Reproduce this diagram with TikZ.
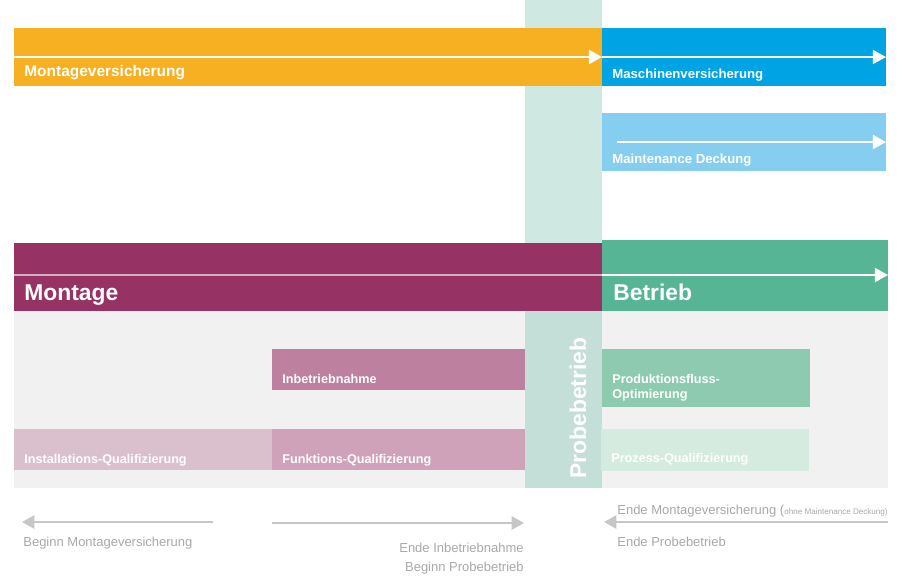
\documentclass[tikz,border=0pt]{standalone}
\usepackage{fontspec}
\setmainfont{Liberation Sans}
\usetikzlibrary{arrows.meta}
\usepackage{xcolor}

\definecolor{orangeBar}{HTML}{F6B021}
\definecolor{blueBar}{HTML}{00A3E4}
\definecolor{lightblueBar}{HTML}{86CEF0}
\definecolor{montageBar}{HTML}{963264}
\definecolor{betriebBar}{HTML}{56B594}
\definecolor{bgGray}{HTML}{F1F1F1}
\definecolor{probeTop}{HTML}{CFE8E1}
\definecolor{probeLow}{HTML}{C3DFD8}
\definecolor{inbetriebBox}{HTML}{BD809E}
\definecolor{installBox}{HTML}{DABFCD}
\definecolor{funktionBox}{HTML}{CFA2BA}
\definecolor{produktBox}{HTML}{8DCAB0}
\definecolor{prozessBox}{HTML}{D5EBDF}
\definecolor{noteGray}{HTML}{A8A8A8}
\definecolor{noteArrow}{HTML}{C6C6C6}

\begin{document}
\begin{tikzpicture}[x=0.02cm,y=-0.02cm]
  \tikzset{bartext/.style = {anchor=base west, inner sep=0pt, text=white, font=\bfseries\fontsize{7.5}{9}\selectfont}}
    \tikzset{boxtext/.style = {bartext, font=\bfseries\fontsize{7.2}{8.6}\selectfont}}
    \tikzset{phasetext/.style = {bartext, font=\bfseries\fontsize{13}{15}\selectfont}}
  \tikzset{notetext/.style = {inner sep=0pt, text=noteGray, font=\fontsize{7.4}{9}\selectfont}}
  \tikzset{%
  tipW/.tip={Triangle[length=7.5pt,width=8pt]},
  tipG/.tip={Triangle[length=7pt,width=7.5pt]},
}
  \useasboundingbox (0,0) rectangle (922,576);

	% Probebetrieb column and background
	\fill[probeTop] (525,0) rectangle (602,311);
	\fill[bgGray] (14,311) rectangle (888,488);
	\fill[probeLow] (525,311) rectangle (602,488);

	% bars
	\fill[orangeBar] (14,28) rectangle (602,86);
	\fill[blueBar] (602,28) rectangle (886,86);
	\fill[lightblueBar] (602,113) rectangle (886,171);
	\fill[montageBar] (14,243) rectangle (602,311);
	\fill[betriebBar] (602,240) rectangle (888,311);

	% boxes
	\fill[inbetriebBox] (272,349) rectangle (525,390);
	\fill[installBox] (14,429) rectangle (272,470);
	\fill[funktionBox] (272,429) rectangle (525,470);
	\fill[produktBox] (602,349) rectangle (810,407);
	\fill[prozessBox] (601,429) rectangle (809,471);

	\node[bartext, font=\bfseries\fontsize{8.8}{10}\selectfont] (montvers) at (24,76) {Montageversicherung};
	\node[bartext] (maschvers) at (612,78) {Maschinenversicherung};
	\node[bartext] (maint) at (612,163) {Maintenance Deckung};
	\node[phasetext] (montage) at (24,300) {Montage};
	\node[phasetext] (betrieb) at (613,300) {Betrieb};
	\node[boxtext] (inbetrieb) at (282,383) {Inbetriebnahme};
	\node[boxtext] (install) at (24,463) {Installations-Qualifizierung};
	\node[boxtext] (funktion) at (282,463) {Funktions-Qualifizierung};
	\node[boxtext] (produkt) at (612,383) {Produktionsfluss-};
	\node[boxtext] (optim) at (612,398) {Optimierung};
	\node[boxtext] (prozess) at (611,462) {Prozess-Qualifizierung};
	\node[phasetext, anchor=center, rotate=90] (probe) at (578,408) {Probebetrieb};

	\coordinate (ov1) at (14,57);
	\coordinate (ov2) at (602,57);
	\coordinate (mv2) at (886,57);
	\coordinate (md1) at (617,142);
	\coordinate (md2) at (886,142);
	\coordinate (mo1) at (14,275);
	\coordinate (mo2) at (602,275);
	\coordinate (be2) at (888,275);

    \foreach \from/\to in {ov1/ov2, ov2/mv2, md1/md2, mo2/be2}
    \path[white, line width=1.2pt, -tipW](\from) edge (\to);

    \path[white, opacity=0.6, line width=1pt](mo1) edge (mo2);

	% notes below
	\coordinate (bm1) at (213,522);
	\coordinate (bm2) at (22,522);
	\coordinate (ei1) at (272,523);
	\coordinate (ei2) at (524,523);
	\coordinate (ep1) at (888,522);
	\coordinate (ep2) at (604,522);

    \foreach \from/\to in {bm1/bm2, ei1/ei2, ep1/ep2}
    \path[noteArrow, line width=1.2pt, -tipG](\from) edge (\to);

	\node[notetext, anchor=base west] (beginmv) at (23,546) {Beginn Montageversicherung};
	\node[notetext, anchor=base east] (endeib) at (524,552) {Ende Inbetriebnahme};
	\node[notetext, anchor=base east] (beginpb) at (524,571) {Beginn Probebetrieb};
	\node[notetext, anchor=base west] (endemv) at (617,514) {Ende Montageversicherung ({\fontsize{4.6}{5}\selectfont ohne Maintenance Deckung)}};
	\node[notetext, anchor=base west] (endepb) at (617,546) {Ende Probebetrieb};

\end{tikzpicture}
\end{document}
